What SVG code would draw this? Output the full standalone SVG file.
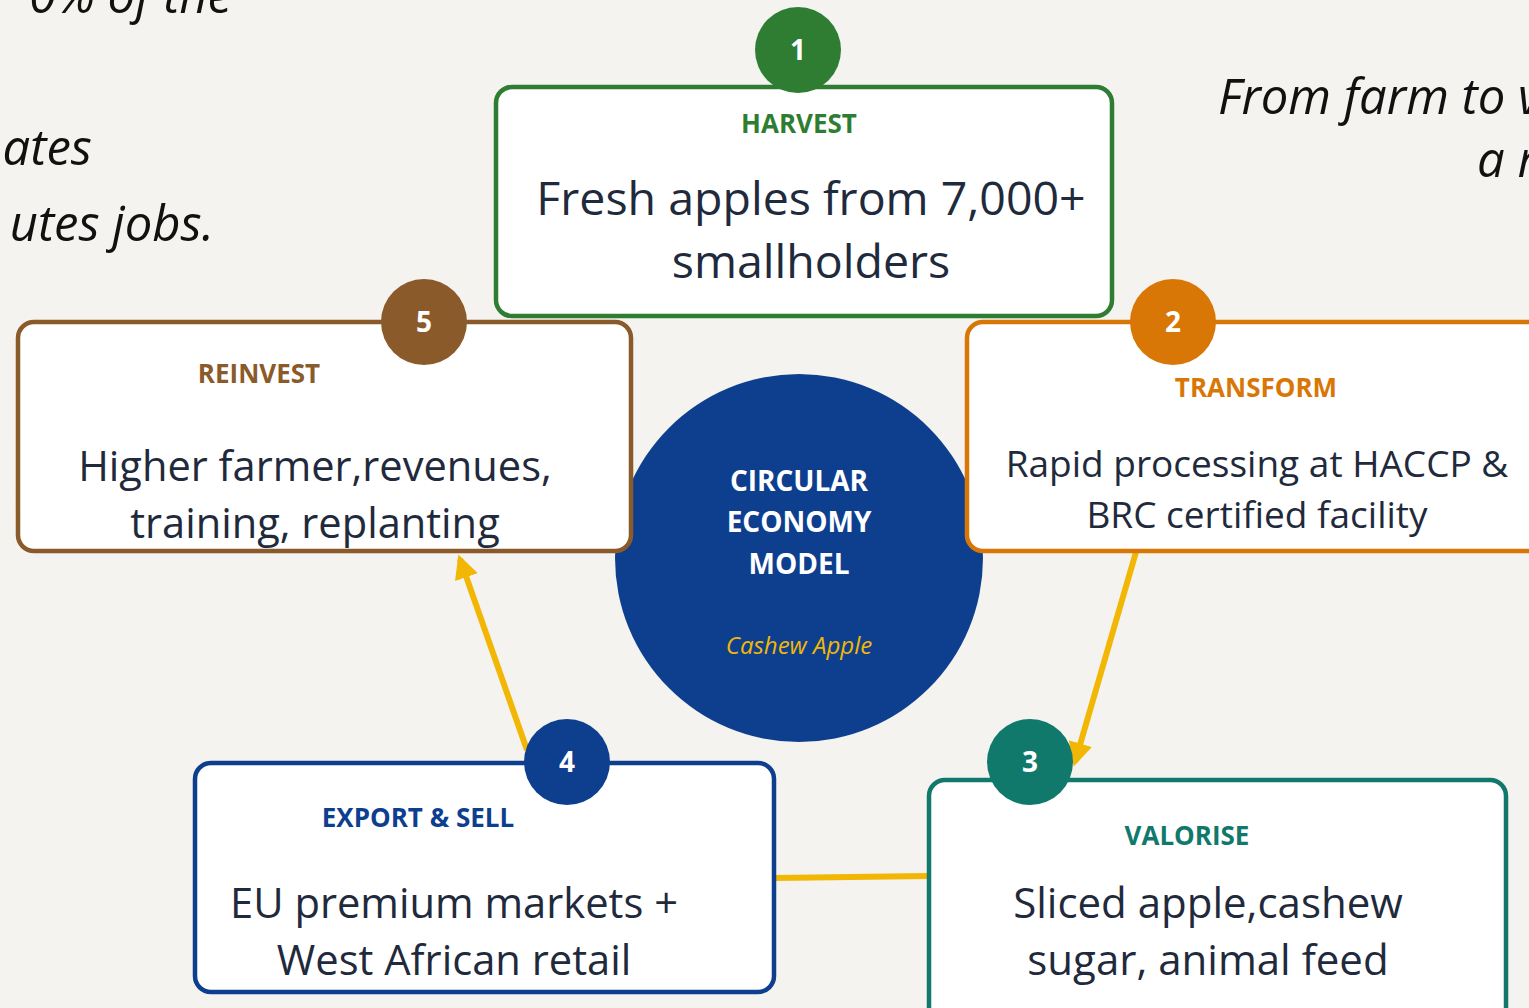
<svg xmlns="http://www.w3.org/2000/svg" width="1529" height="1008" viewBox="0 0 1529 1008">
<defs>
<marker id="arr" viewBox="0 0 10 10" refX="8" refY="5" markerWidth="4" markerHeight="4" orient="auto" markerUnits="strokeWidth">
<path d="M0,0 L10,5 L0,10 z" fill="#f2b705"/>
</marker>
<style>
.bg{fill:#f4f3ef}
.box{fill:#ffffff;stroke-width:4.5}
.body{font-family:"Open Sans","Noto Sans",sans-serif;fill:#1f2a3c;text-anchor:middle}
.title{font-family:"Open Sans","Noto Sans",sans-serif;font-weight:bold;font-size:26px;text-anchor:middle}
.num{font-family:"Open Sans","Noto Sans",sans-serif;font-weight:bold;font-size:28px;fill:#ffffff;text-anchor:middle}
.side{font-family:"Open Sans","Noto Sans",sans-serif;font-style:italic;font-size:49px;fill:#111111}
.conn{stroke:#f2b705;stroke-width:6;fill:none}
</style>
</defs>
<rect class="bg" x="0" y="0" width="1529" height="1008"/>

<g id="side-text-left">
<text class="side" x="232" y="13" text-anchor="end">0% of the</text>
<text class="side" x="92" y="165" text-anchor="end">ates</text>
<text class="side" x="214" y="241" text-anchor="end">utes jobs.</text>
</g>
<g id="side-text-right">
<text class="side" x="1218" y="114">From farm to v</text>
<text class="side" x="1477" y="177">a r</text>
</g>

<g id="connectors">
<line class="conn" x1="1136" y1="552" x2="1075" y2="762" marker-end="url(#arr)"/>
<line class="conn" x1="527" y1="750" x2="460" y2="559" marker-end="url(#arr)"/>
<line class="conn" x1="775" y1="878" x2="928" y2="876" stroke-width="7"/>
</g>

<g id="center">
<circle cx="799" cy="558" r="184" fill="#0e3f8f"/>
<text x="799" y="491" text-anchor="middle" font-family="Open Sans, Noto Sans, sans-serif" font-weight="bold" font-size="28" fill="#ffffff">CIRCULAR</text>
<text x="799" y="532" text-anchor="middle" font-family="Open Sans, Noto Sans, sans-serif" font-weight="bold" font-size="28" fill="#ffffff">ECONOMY</text>
<text x="799" y="574" text-anchor="middle" font-family="Open Sans, Noto Sans, sans-serif" font-weight="bold" font-size="28" fill="#ffffff">MODEL</text>
<text x="799" y="654" text-anchor="middle" font-family="Open Sans, Noto Sans, sans-serif" font-style="italic" font-size="24" fill="#f2b705">Cashew Apple</text>
</g>

<g id="node1">
<rect class="box" x="496" y="87" width="616" height="229" rx="16" stroke="#2e7d32"/>
<circle cx="798" cy="50" r="43" fill="#2e7d32"/>
<text class="num" x="798" y="60">1</text>
<text class="title" x="799" y="133" fill="#2e7d32">HARVEST</text>
<text class="body" x="811" y="215" font-size="46.5">Fresh apples from 7,000+</text>
<text class="body" x="811" y="278" font-size="46.5">smallholders</text>
</g>

<g id="node2">
<rect class="box" x="967" y="322" width="600" height="229" rx="16" stroke="#d97706"/>
<circle cx="1173" cy="322" r="43" fill="#d97706"/>
<text class="num" x="1173" y="332">2</text>
<text class="title" x="1256" y="397" fill="#d97706">TRANSFORM</text>
<text class="body" x="1257" y="477" font-size="37">Rapid processing at HACCP &amp;</text>
<text class="body" x="1257" y="528" font-size="37">BRC certified facility</text>
</g>

<g id="node3">
<rect class="box" x="929" y="780" width="577" height="250" rx="16" stroke="#11796b"/>
<circle cx="1030" cy="762" r="43" fill="#11796b"/>
<text class="num" x="1030" y="772">3</text>
<text class="title" x="1187" y="845" fill="#11796b">VALORISE</text>
<text class="body" x="1208" y="918" font-size="42">Sliced apple,cashew</text>
<text class="body" x="1208" y="975" font-size="42">sugar, animal feed</text>
</g>

<g id="node4">
<rect class="box" x="195" y="763" width="579" height="229" rx="16" stroke="#0e3f8f"/>
<circle cx="567" cy="762" r="43" fill="#0e3f8f"/>
<text class="num" x="567" y="772">4</text>
<text class="title" x="418" y="827" fill="#0e3f8f">EXPORT &amp; SELL</text>
<text class="body" x="454" y="918" font-size="41.7">EU premium markets +</text>
<text class="body" x="454" y="975" font-size="41.7">West African retail</text>
</g>

<g id="node5">
<rect class="box" x="18" y="322" width="613" height="229" rx="16" stroke="#8b5a2b"/>
<circle cx="424" cy="322" r="43" fill="#8b5a2b"/>
<text class="num" x="424" y="332">5</text>
<text class="title" x="259" y="383" fill="#8b5a2b">REINVEST</text>
<text class="body" x="315" y="481" font-size="41.6">Higher farmer,revenues,</text>
<text class="body" x="315" y="538" font-size="41.6">training, replanting</text>
</g>
</svg>
